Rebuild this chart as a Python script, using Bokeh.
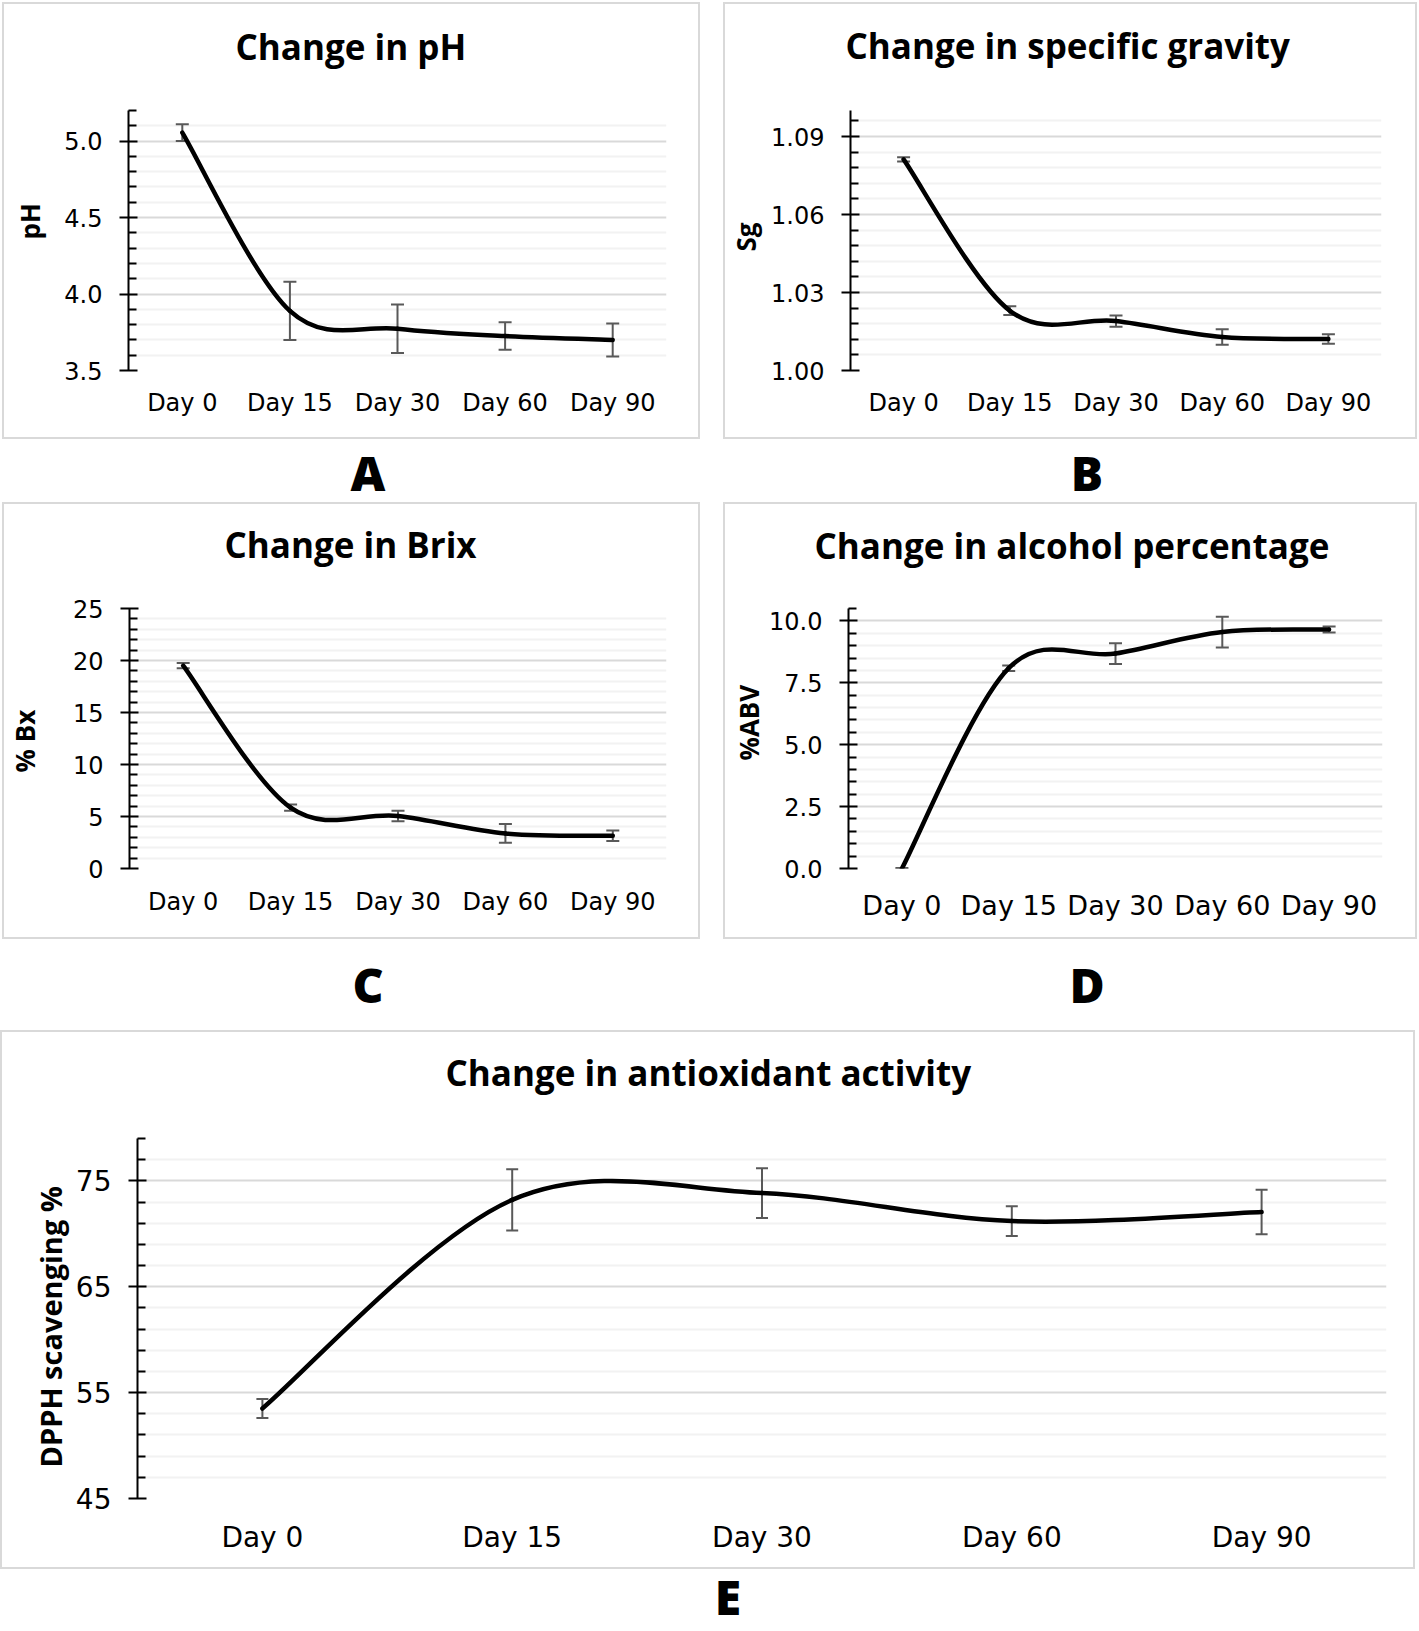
from bokeh.plotting import figure
from bokeh.models import (FixedTicker, NumeralTickFormatter, Whisker, TeeHead,
                          ColumnDataSource, Div, Spacer, Range1d, FactorRange, Title)
from bokeh.layouts import row, column
from bokeh.embed import file_html
from bokeh.resources import INLINE

# ---------------- data ----------------
days = ["Day 0", "Day 15", "Day 30", "Day 60", "Day 90"]

ph_mean = [5.055, 3.89, 3.773, 3.725, 3.70]
ph_err = [0.055, 0.19, 0.158, 0.09, 0.108]

sg_mean = [1.0812, 1.0230, 1.0190, 1.0129, 1.0121]
sg_err = [0.0008, 0.0017, 0.0022, 0.0030, 0.0018]

brix_mean = [19.5, 5.85, 5.05, 3.37, 3.15]
brix_err = [0.25, 0.3, 0.5, 0.9, 0.5]

abv_mean = [0.0, 8.09, 8.68, 9.55, 9.65]
abv_err = [0.02, 0.11, 0.42, 0.62, 0.12]

dpph_mean = [53.5, 73.2, 73.85, 71.2, 72.05]
dpph_err = [0.9, 2.9, 2.35, 1.4, 2.1]

ph_ticks = [3.5, 4.0, 4.5, 5.0]
sg_ticks = [1.00, 1.03, 1.06, 1.09]
brix_ticks = [0, 5, 10, 15, 20, 25]
abv_ticks = [0.0, 2.5, 5.0, 7.5, 10.0]
dpph_ticks = [45, 55, 65, 75]

TITLE_FONT = "Open Sans"
TICK_FONT = "DejaVu Sans"
GRID_MAJOR = "#d9d9d9"
GRID_MINOR = "#f2f2f2"
ERR_COLOR = "#595959"
BORDER = "#d9d9d9"


def smooth_segments(xs, ys):
    """Catmull-Rom style bezier control points (spreadsheet-like smoothed line)."""
    n = len(xs)
    cols = {k: [] for k in ["x0", "y0", "x1", "y1", "cx0", "cy0", "cx1", "cy1"]}
    for i in range(n - 1):
        xm, ym = (xs[i - 1], ys[i - 1]) if i > 0 else (xs[i], ys[i])
        xp, yp = (xs[i + 2], ys[i + 2]) if i + 2 < n else (xs[i + 1], ys[i + 1])
        cols["x0"].append(xs[i]); cols["y0"].append(ys[i])
        cols["x1"].append(xs[i + 1]); cols["y1"].append(ys[i + 1])
        cols["cx0"].append(xs[i] + (xs[i + 1] - xm) / 6.0)
        cols["cy0"].append(ys[i] + (ys[i + 1] - ym) / 6.0)
        cols["cx1"].append(xs[i + 1] - (xp - xs[i]) / 6.0)
        cols["cy1"].append(ys[i + 1] - (yp - ys[i]) / 6.0)
    return cols


def panel(title, ylabel, mean, err, ymin, ymax, majors, minor_step, fmt,
          w, h, borders, tick_fs, xtick_fs, xlab_so, title_off, title_gap,
          ylab_off, ylab_gap, ylab_fs="26px", cap=13):
    left, right, top, bottom = borders
    p = figure(width=w, height=h, x_range=FactorRange(*days),
               y_range=Range1d(ymin, ymax), output_backend="svg",
               toolbar_location=None, min_border_left=left,
               min_border_right=right, min_border_top=top,
               min_border_bottom=bottom, background_fill_color="white",
               border_fill_color="white", outline_line_color=None)
    p.styles = {"border": "2px solid " + BORDER, "box-sizing": "border-box"}

    # chart title (a thin spacer title keeps it well above the plot area)
    p.add_layout(Title(text=" ", text_font_size="1px", standoff=title_gap), "above")
    p.add_layout(Title(text=title, text_font=TITLE_FONT, text_font_size="35px",
                       text_font_style="bold", text_color="#000000",
                       align="left", offset=title_off, standoff=0), "above")
    # y-axis title
    if ylab_gap is not None:
        p.add_layout(Title(text=" ", text_font_size="1px", standoff=ylab_gap), "left")
    p.add_layout(Title(text=ylabel, text_font=TITLE_FONT, text_font_size=ylab_fs,
                       text_font_style="bold", text_color="#000000",
                       align="left", offset=ylab_off, standoff=0), "left")

    n = int((ymax - ymin) / minor_step + 1e-6)
    minors = [ymin + i * minor_step for i in range(n + 1)]
    minors = [m for m in minors if all(abs(m - t) > 1e-9 for t in majors)]
    ticker = FixedTicker(ticks=majors, minor_ticks=minors)
    p.yaxis.ticker = ticker
    p.ygrid.ticker = ticker
    p.yaxis.formatter = NumeralTickFormatter(format=fmt)
    p.ygrid.grid_line_color = GRID_MAJOR
    p.ygrid.grid_line_width = 2
    p.ygrid.minor_grid_line_color = GRID_MINOR
    p.ygrid.minor_grid_line_width = 2
    p.xgrid.visible = False

    ya = p.yaxis[0]
    ya.axis_line_color = "#000000"
    ya.axis_line_width = 2
    ya.major_tick_line_color = "#000000"
    ya.major_tick_line_width = 2
    ya.major_tick_in = 9
    ya.major_tick_out = 9
    ya.minor_tick_line_color = "#000000"
    ya.minor_tick_line_width = 2
    ya.minor_tick_in = 8
    ya.minor_tick_out = 0
    ya.major_label_text_font = TICK_FONT
    ya.major_label_text_font_size = tick_fs
    ya.major_label_text_color = "#000000"
    ya.major_label_standoff = 17

    xa = p.xaxis[0]
    xa.axis_line_color = None
    xa.major_tick_line_color = None
    xa.minor_tick_line_color = None
    xa.major_label_text_font = TICK_FONT
    xa.major_label_text_font_size = xtick_fs
    xa.major_label_text_color = "#000000"
    xa.major_label_standoff = xlab_so

    xs = [i + 0.5 for i in range(len(days))]
    esrc = ColumnDataSource(dict(x=xs,
                                 upper=[m + e for m, e in zip(mean, err)],
                                 lower=[m - e for m, e in zip(mean, err)]))
    wh = Whisker(base="x", upper="upper", lower="lower", source=esrc,
                 dimension="height", line_color=ERR_COLOR, line_width=2,
                 upper_head=TeeHead(size=cap, line_color=ERR_COLOR, line_width=2),
                 lower_head=TeeHead(size=cap, line_color=ERR_COLOR, line_width=2),
                 level="underlay")
    p.add_layout(wh)

    bsrc = ColumnDataSource(smooth_segments(xs, mean))
    p.bezier(x0="x0", y0="y0", x1="x1", y1="y1", cx0="cx0", cy0="cy0",
             cx1="cx1", cy1="cy1", source=bsrc, line_color="#000000",
             line_width=4.5, line_cap="round")
    return p


pA = panel("Change in pH", "pH", ph_mean, ph_err, 3.5, 5.2, ph_ticks, 0.1, "0.0",
           698, 437, (124, 36, 102, 71), "24px", "24px", 12,
           107, 38, 131, 11)
pB = panel("Change in specific gravity", "Sg", sg_mean, sg_err, 1.00, 1.10, sg_ticks,
           0.006, "0.00", 694, 437, (124, 38, 106, 71), "24px", "24px", 12,
           -5, 39, 119, 2)
pC = panel("Change in Brix", "% Bx", brix_mean, brix_err, 0, 25, brix_ticks, 1, "0",
           698, 437, (124, 36, 104, 71), "24px", "24px", 13,
           95, 38, 96, 24)
pD = panel("Change in alcohol percentage", "%ABV", abv_mean, abv_err, 0, 10.5,
           abv_ticks, 0.5, "0.0", 694, 437, (123, 37, 104, 73), "24px", "27px", 15,
           -34, 37, 108, None)
pE = panel("Change in antioxidant activity", "DPPH scavenging %", dpph_mean, dpph_err,
           45, 79, dpph_ticks, 2, "0", 1415, 539, (135, 31, 106, 73), "28px", "28px", 16,
           308, 40, 31, 0, ylab_fs="29px", cap=12)


def letter(t, lh, h):
    st = {"font-family": "Open Sans", "font-weight": "800",
          "font-size": "48px", "text-align": "center",
          "line-height": "%dpx" % lh, "color": "#000000"}
    return Div(text=t, width=76, height=h, margin=0, styles=st)


top = row(Spacer(width=2, height=437), pA, Spacer(width=23, height=437), pB)
lab1 = row(Spacer(width=330, height=63), letter("A", 68, 63),
           Spacer(width=643, height=63), letter("B", 68, 63))
mid = row(Spacer(width=2, height=437), pC, Spacer(width=23, height=437), pD)
lab2 = row(Spacer(width=330, height=91), letter("C", 91, 91),
           Spacer(width=643, height=91), letter("D", 91, 91))
lab3 = row(Spacer(width=690, height=58), letter("E", 56, 58))

layout = column(Spacer(width=10, height=2), top, lab1, mid, lab2, pE, lab3)

open("out.html", "w").write(file_html(layout, INLINE))
